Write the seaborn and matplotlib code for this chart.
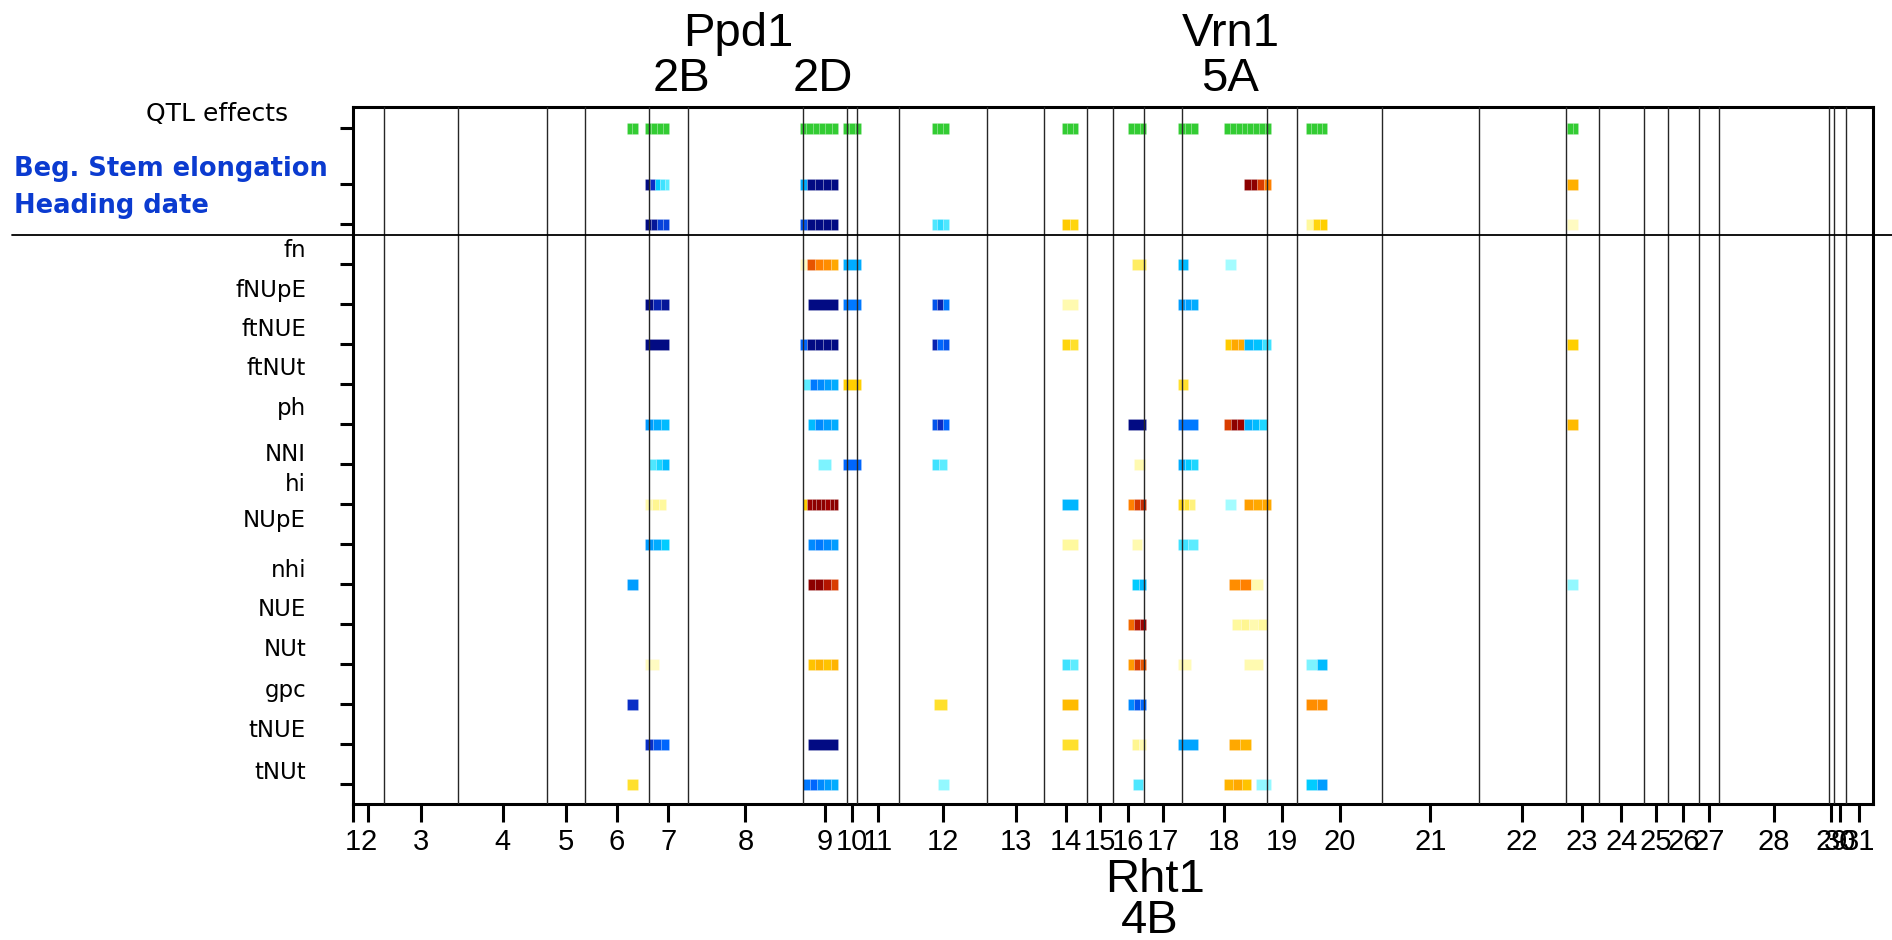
import numpy as np
import matplotlib
matplotlib.use("Agg")
import matplotlib.pyplot as plt
from matplotlib import font_manager
from matplotlib.colors import LinearSegmentedColormap, Normalize
from matplotlib.transforms import blended_transform_factory
import seaborn as sns

# ---------------------------------------------------------------- data
# lengths (cM) of the 30 linkage groups laid end to end along the map
group_lengths = [30.8, 74.6, 88.8, 38.2, 63.3, 39.5, 114.4, 44.4, 9.6, 42.8,
                 87.9, 57.0, 43.1, 25.6, 30.8, 37.8, 84.9, 30.8, 84.9, 96.5,
                 86.9, 33.2, 45.1, 23.8, 31.5, 19.6, 109.7, 5.7, 11.6, 27.2]
tick_labels = [str(i) for i in range(1, 32)]

# QTL confidence intervals (start, end) in cumulative cM
qtl_regions = [(274.2, 284.5), (292.4, 316.3), (446.6, 485.4), (490.4, 508.0),
               (578.6, 595.5), (708.9, 725.1), (774.9, 793.4), (825.3, 844.8),
               (871.4, 917.5), (953.0, 974.2), (1214.3, 1224.9)]

# per-trait QTL effects: (start, end, standardised effects of consecutive markers)
beg_stem = [(292.4, 316.3, [-0.95, -0.8, -0.35, -0.25, -0.2]),
            (446.6, 485.4, [-0.45, -0.95, -0.95, -0.95, -0.95]),
            (891.0, 917.5, [0.95, 0.95, 0.75, 0.6]),
            (1214.3, 1224.9, [0.42])]
heading = [(292.4, 316.3, [-0.95, -0.9, -0.75, -0.75]),
           (446.6, 485.4, [-0.7, -0.95, -0.95, -0.95, -0.95]),
           (578.6, 595.5, [-0.22, -0.28, -0.22]),
           (708.9, 725.1, [0.32, 0.28]),
           (953.0, 974.2, [0.08, 0.28, 0.3]),
           (1214.3, 1224.9, [0.05])]
fn = [(446.6, 485.4, [0.05, 0.7, 0.6, 0.55, 0.45]),
      (490.4, 508.0, [-0.45]),
      (778.5, 793.4, [0.15]),
      (825.3, 835.2, [-0.4]),
      (872.0, 883.0, [-0.1])]
fNUpE = [(292.4, 316.3, [-0.95, -0.85, -0.9]),
         (454.6, 485.4, [-0.95]),
         (490.4, 508.0, [-0.6]),
         (578.6, 595.5, [-0.7, -0.85, -0.6]),
         (708.9, 725.1, [0.07]),
         (825.3, 844.8, [-0.5, -0.48, -0.45])]
ftNUE = [(292.4, 316.3, [-0.95]),
         (446.6, 485.4, [-0.65, -0.95, -0.95, -0.95, -0.95]),
         (578.6, 595.5, [-0.85, -0.65, -0.7]),
         (708.9, 725.1, [0.28, 0.22]),
         (872.0, 891.0, [0.32, 0.45, 0.45]),
         (891.0, 917.5, [-0.42, -0.38, -0.25]),
         (1214.3, 1224.9, [0.3])]
ftNUt = [(450.0, 485.4, [-0.2, -0.6, -0.55, -0.5, -0.45]),
         (490.4, 508.0, [0.3]),
         (825.3, 835.2, [0.22])]
ph = [(292.4, 316.3, [-0.5, -0.45, -0.4]),
      (454.6, 485.4, [-0.4, -0.55, -0.5, -0.45]),
      (578.6, 595.5, [-0.7, -0.8, -0.65]),
      (774.9, 793.4, [-0.95]),
      (825.3, 844.8, [-0.6]),
      (871.4, 891.0, [0.75, 0.95, 0.9]),
      (891.0, 913.5, [-0.45, -0.4, -0.3]),
      (1214.3, 1224.9, [0.38])]
NNI = [(295.7, 316.3, [-0.22, -0.3, -0.4]),
       (464.5, 478.4, [-0.15]),
       (490.4, 508.0, [-0.65]),
       (578.6, 593.5, [-0.25, -0.2]),
       (780.5, 791.5, [0.07]),
       (825.3, 844.8, [-0.45, -0.35, -0.3])]
hi = [(292.4, 313.0, [0.07, 0.1, 0.08]),
      (450.0, 485.4, [0.3, 0.92, 0.95, 0.95, 0.95, 0.9, 0.95, 0.95]),
      (708.9, 725.1, [-0.42]),
      (774.9, 793.4, [0.6, 0.75, 0.8]),
      (825.3, 841.9, [0.25, 0.2, 0.12]),
      (872.0, 883.0, [-0.1]),
      (891.0, 917.5, [0.48, 0.45, 0.45])]
NUpE = [(292.4, 316.3, [-0.5, -0.45, -0.35]),
        (454.6, 485.4, [-0.55, -0.6, -0.55, -0.5]),
        (708.9, 725.1, [0.08]),
        (778.5, 788.8, [0.07]),
        (825.3, 844.8, [-0.25, -0.2])]
nhi = [(274.2, 284.5, [-0.5]),
       (454.6, 485.4, [0.95, 0.95, 0.85, 0.75]),
       (778.5, 793.4, [-0.35, -0.4]),
       (876.0, 898.0, [0.55, 0.6]),
       (898.0, 909.5, [0.07]),
       (1214.3, 1224.9, [-0.12])]
NUE = [(774.9, 793.4, [0.65, 0.85, 0.9]),
       (879.3, 913.5, [0.08, 0.1, 0.07, 0.08])]
NUt = [(292.4, 306.3, [0.05]),
       (454.6, 485.4, [0.35, 0.4, 0.35, 0.4]),
       (708.9, 725.1, [-0.25, -0.2]),
       (774.9, 793.4, [0.5, 0.75, 0.7]),
       (825.3, 838.2, [0.06]),
       (891.0, 909.5, [0.07]),
       (953.0, 974.2, [-0.15, -0.4])]
gpc = [(274.2, 284.5, [-0.8]),
       (580.6, 593.5, [0.22]),
       (708.9, 725.1, [0.38]),
       (774.9, 793.4, [-0.55, -0.7, -0.65]),
       (953.0, 974.2, [0.55, 0.55])]
tNUE = [(292.4, 316.3, [-0.8, -0.7, -0.65]),
        (454.6, 485.4, [-0.95]),
        (708.9, 725.1, [0.22]),
        (778.5, 793.4, [0.1, 0.07]),
        (825.3, 844.8, [-0.47]),
        (876.0, 898.0, [0.45, 0.4])]
tNUt = [(274.2, 284.5, [0.22]),
        (450.0, 485.4, [-0.6, -0.65, -0.55, -0.5, -0.45]),
        (584.9, 595.5, [-0.12]),
        (779.5, 789.8, [-0.22]),
        (871.4, 898.0, [0.4, 0.45, 0.35]),
        (902.9, 917.5, [-0.12]),
        (953.0, 974.2, [-0.35, -0.5])]

# rows from bottom to top
trait_names = ["tNUt", "tNUE", "gpc", "NUt", "NUE", "nhi", "NUpE", "hi", "NNI",
               "ph", "ftNUt", "ftNUE", "fNUpE", "fn"]
trait_effects = [tNUt, tNUE, gpc, NUt, NUE, nhi, NUpE, hi, NNI, ph, ftNUt,
                 ftNUE, fNUpE, fn]
pheno_names = ["Heading date", "Beg. Stem elongation"]
pheno_effects = [heading, beg_stem]
qtl_row_y = 16.4

# colour scale for standardised effects
effect_levels = [-1.0, -0.8, -0.65, -0.5, -0.35, -0.2, -0.08, 0.0,
                 0.08, 0.2, 0.3, 0.45, 0.6, 0.75, 0.9, 1.0]
effect_colors = ["#00006e", "#0a2fc8", "#0068ff", "#009cff", "#00ccff", "#5cecff",
                 "#b0ffff", "#ffffff", "#fff9a0", "#ffe53a", "#ffd000", "#ffa800",
                 "#ff8000", "#dc4000", "#a00000", "#7a0000"]

# gene annotations: (label, cM position)
top_genes = [("Ppd1", 385.0), ("Vrn1", 878.0)]
top_chroms = [("2B", 328.6), ("2D", 469.5), ("5A", 876.6)]
bottom_gene = ("Rht1", 802.0)
bottom_chrom = ("4B", 797.0)

# ---------------------------------------------------------------- style
sns.set_theme(style="white")
avail = {f.name for f in font_manager.fontManager.ttflist}
narrow = "Liberation Sans Narrow" if "Liberation Sans Narrow" in avail else "Liberation Sans"
plt.rcParams["font.family"] = ["DejaVu Sans"]
plt.rcParams.update({"text.color": "black", "xtick.color": "black",
                     "ytick.color": "black", "axes.labelcolor": "black",
                     "axes.edgecolor": "black"})

norm = Normalize(vmin=-1, vmax=1)
pos = [(v + 1) / 2 for v in effect_levels]
effect_cmap = LinearSegmentedColormap.from_list("effects", list(zip(pos, effect_colors)))
qtl_green = sns.blend_palette(["#33cc33", "#33cc33"], 2)[0]

W, H = 1892, 940
fig = plt.figure(figsize=(W / 100, H / 100), dpi=100)
ax = fig.add_axes([353 / W, (H - 804) / H, (1873 - 353) / W, (804 - 107) / H])

bounds = np.cumsum(group_lengths)
starts = np.concatenate([[0.0], bounds[:-1]])
ax.set_xlim(0, bounds[-1])
ax.set_ylim(-0.495, 16.93)

bar_h = 0.28
stripe = (1, 1, 1, 0.2)


def draw_row(y, blocks):
    for start, end, vals in blocks:
        n = len(vals)
        w = (end - start) / n
        lefts = start + w * np.arange(n)
        ax.barh([y] * n, [w] * n, left=lefts, height=bar_h,
                color=effect_cmap(norm(np.asarray(vals))),
                edgecolor=stripe, linewidth=0.6, zorder=2)


for i, blocks in enumerate(trait_effects):
    draw_row(i, blocks)
for j, blocks in enumerate(pheno_effects):
    draw_row(len(trait_effects) + j, blocks)

for start, end in qtl_regions:
    n = max(1, int(round((end - start) / 6)))
    w = (end - start) / n
    ax.barh([qtl_row_y] * n, [w] * n, left=start + w * np.arange(n), height=bar_h,
            color=qtl_green, edgecolor=(1, 1, 1, 0.15), linewidth=0.6, zorder=2)

# linkage group boundaries
for b in bounds[:-1]:
    ax.axvline(b, color="#262626", lw=1.0, zorder=3)

# separator between phenology traits and NUE traits, across the whole figure
sep_y = 13.73
ax.plot([12 / W, 1.0], [sep_y, sep_y], color="black", lw=1.3, clip_on=False,
        transform=blended_transform_factory(fig.transFigure, ax.transData), zorder=4)

# axes decoration
row_ys = list(range(len(trait_effects) + len(pheno_effects))) + [qtl_row_y]
ax.set_yticks(row_ys)
ax.set_yticklabels([])
xticks = np.concatenate([[0.0], (starts + bounds) / 2])
ax.set_xticks(xticks)
ax.set_xticklabels(tick_labels, fontfamily=narrow, fontsize=21, color="black")
ax.tick_params(axis="x", direction="out", length=13.3, width=2.2, pad=4, color="black",
               bottom=True)
ax.tick_params(axis="y", direction="out", length=9.4, width=2.2, color="black", left=True)
for s in ax.spines.values():
    s.set_visible(True)
    s.set_linewidth(2.2)
    s.set_color("black")
ax.grid(False)

# row labels
fig_x = blended_transform_factory(fig.transFigure, ax.transData)
label_offsets = [0.30, 0.35, 0.35, 0.38, 0.38, 0.35, 0.58, 0.48, 0.23, 0.40,
                 0.40, 0.38, 0.35, 0.35]
for i, (name, off) in enumerate(zip(trait_names, label_offsets)):
    ax.text(306 / W, i + off, name, transform=fig_x, ha="right", va="center",
            fontsize=16.5, color="black")
ax.text(288.5 / W, 16.59, "QTL effects", transform=fig_x, ha="right",
        va="baseline", fontsize=18, color="black")
blue = "#0b3bd0"
ax.text(14 / W, 15.205, pheno_names[1], transform=fig_x, ha="left", va="baseline",
        fontsize=18.5, fontweight="bold", color=blue)
ax.text(14 / W, 14.29, pheno_names[0], transform=fig_x, ha="left", va="baseline",
        fontsize=18.5, fontweight="bold", color=blue)

# gene / chromosome annotations
data_x = blended_transform_factory(ax.transData, fig.transFigure)
big = dict(fontfamily="Liberation Sans", fontsize=34, ha="center", va="baseline",
           transform=data_x, clip_on=False, color="black")
for name, x in top_genes:
    ax.text(x, 1 - 46 / H, name, **big)
for name, x in top_chroms:
    ax.text(x, 1 - 91 / H, name, **big)
ax.text(bottom_gene[1], 1 - 892 / H, bottom_gene[0], **big)
ax.text(bottom_chrom[1], 1 - 933 / H, bottom_chrom[0], **big)

fig.savefig("out.png", dpi=100, facecolor="white")
